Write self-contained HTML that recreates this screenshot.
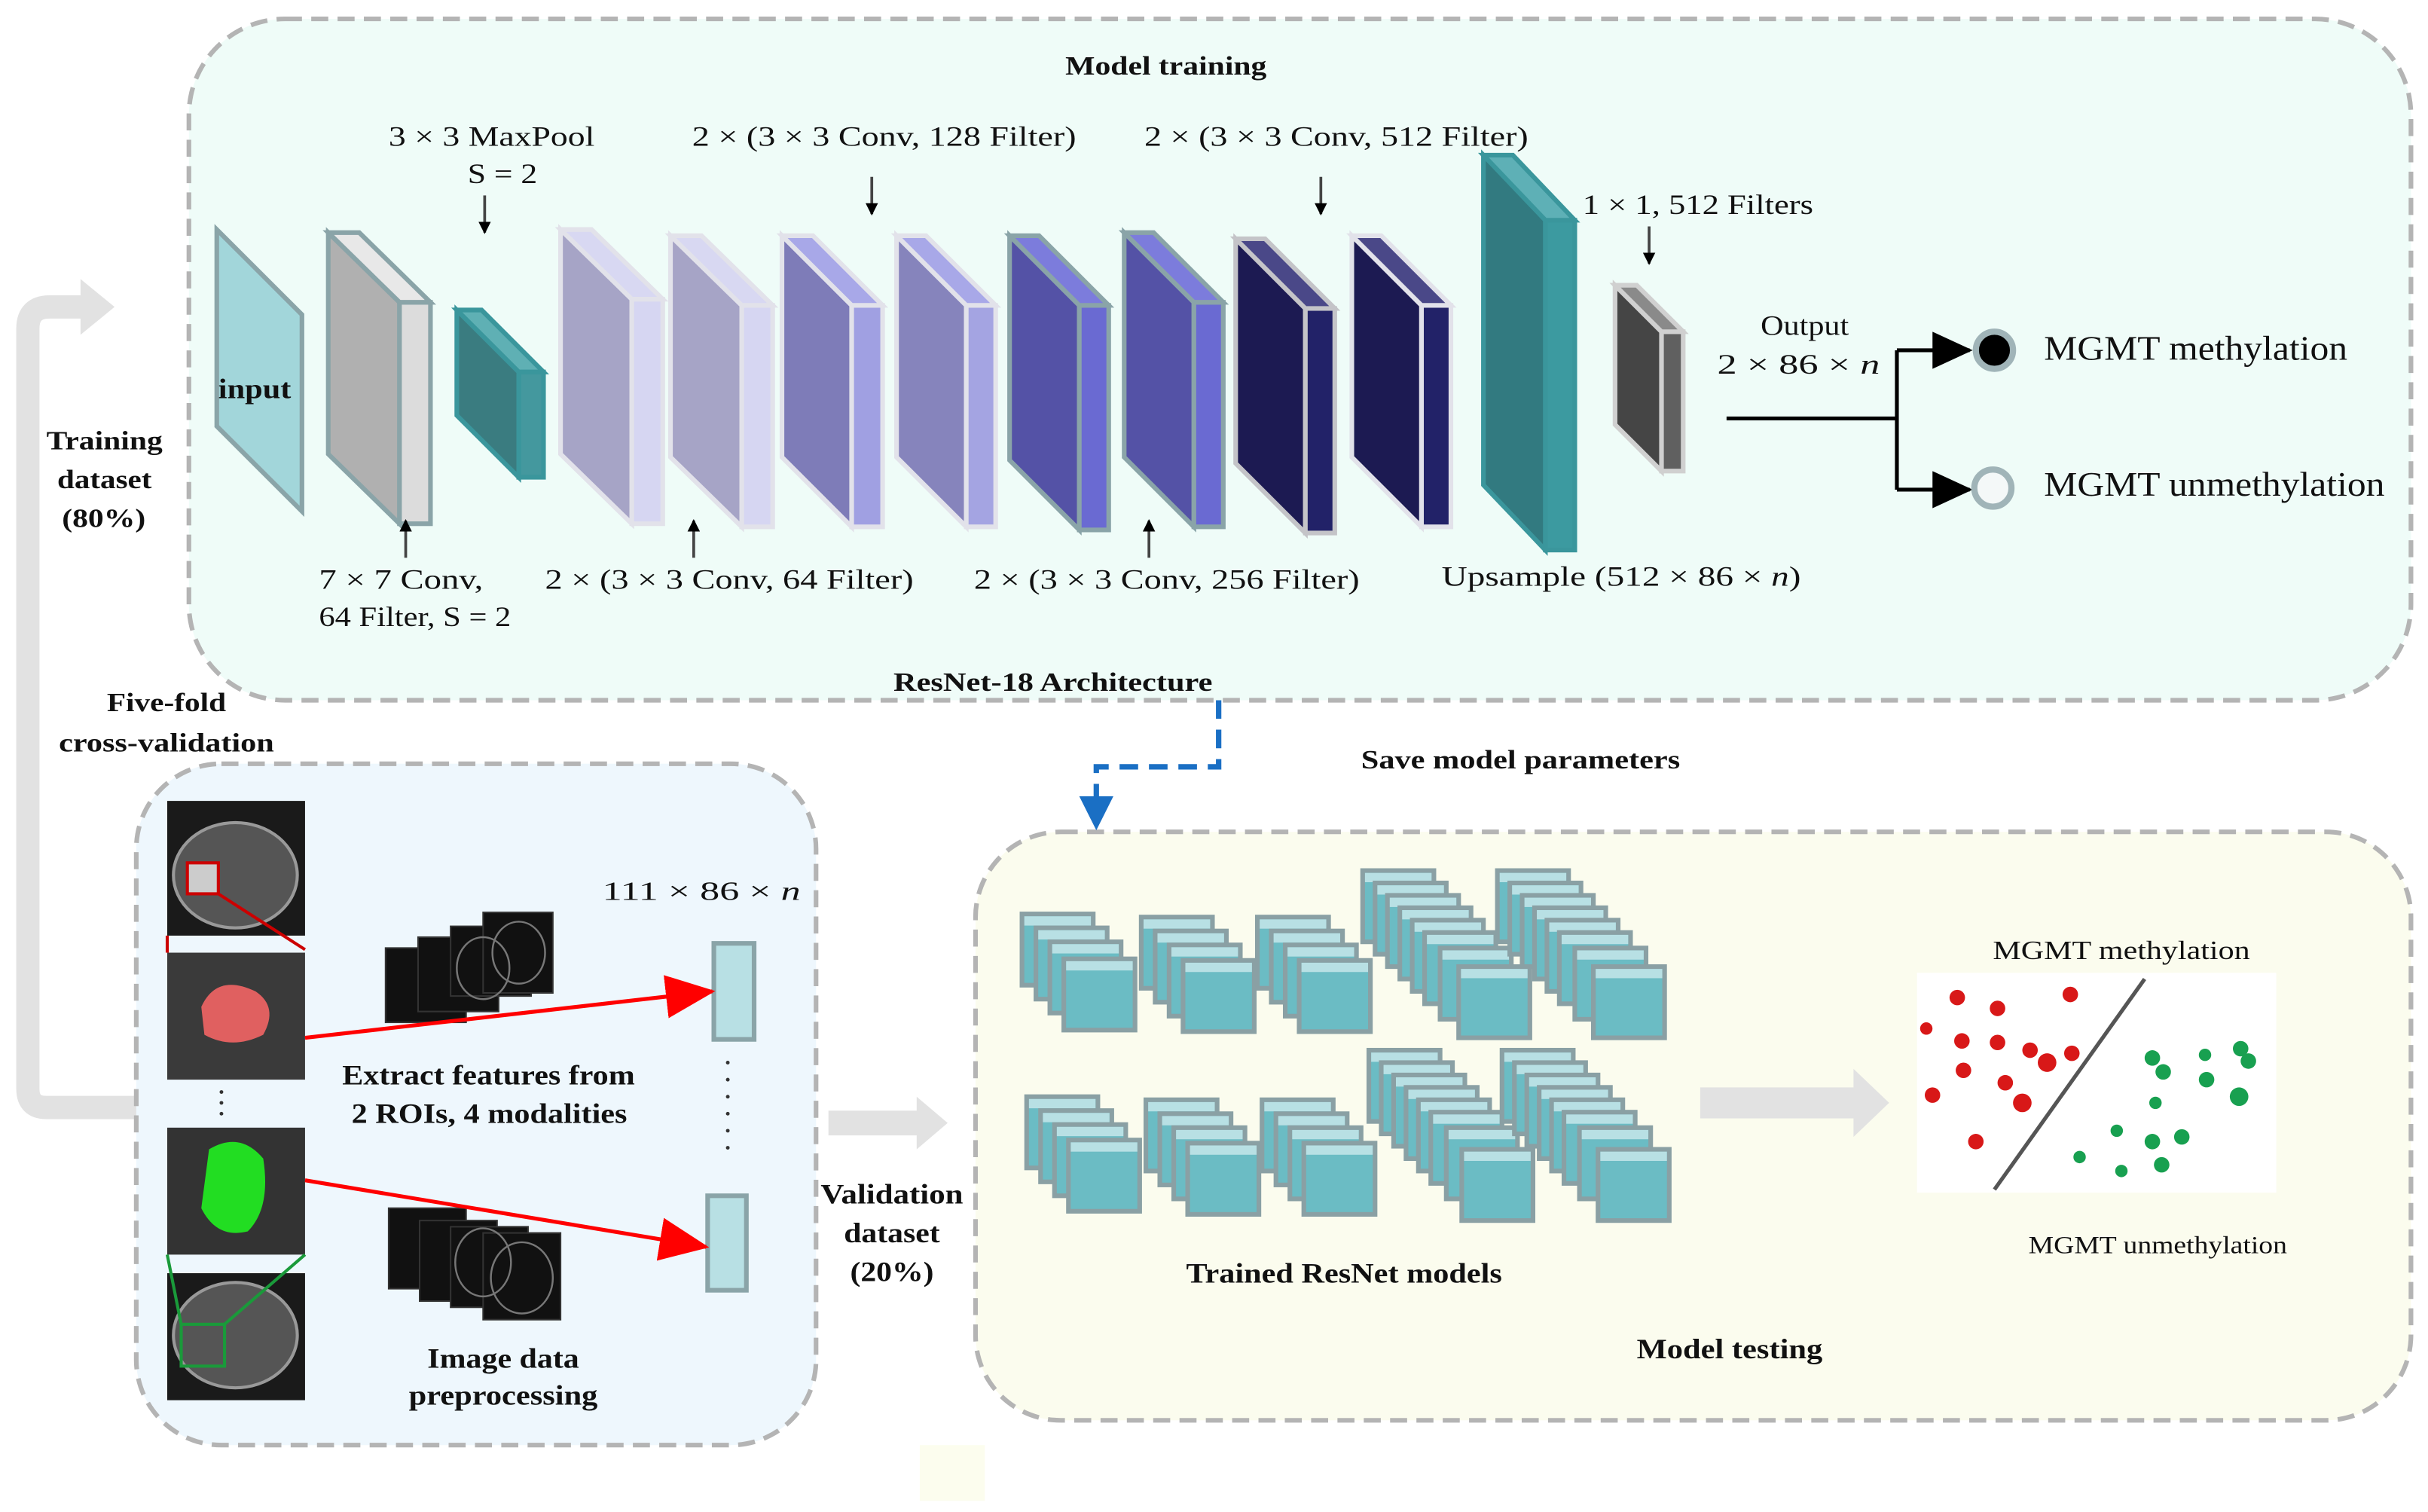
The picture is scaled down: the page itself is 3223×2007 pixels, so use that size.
<!DOCTYPE html>
<html><head><meta charset="utf-8"><style>
html,body{margin:0;padding:0;background:#fff;}
svg{display:block;}
text{font-family:"Liberation Serif",serif;fill:#111;}
.b{font-weight:bold;}
</style></head><body>
<svg width="3223" height="2007" viewBox="0 0 1568 976" xmlns="http://www.w3.org/2000/svg">
<defs>
<marker id="ah" markerWidth="8" markerHeight="8" refX="7" refY="4" orient="auto" markerUnits="userSpaceOnUse"><path d="M0,0 L8,4 L0,8 Z" fill="#000"/></marker>
<marker id="bk" markerWidth="26" markerHeight="24" refX="24" refY="12" orient="auto" markerUnits="userSpaceOnUse"><path d="M0,0 L26,12 L0,24 Z" fill="#000"/></marker>
<marker id="rd" markerWidth="32" markerHeight="28" refX="30" refY="14" orient="auto" markerUnits="userSpaceOnUse"><path d="M0,0 L32,14 L0,28 Z" fill="#f00"/></marker>
<g id="card"><rect width="46" height="46" fill="#6bbcc4" stroke="#8aa0a4" stroke-width="3"/><rect x="1.5" y="1.5" width="43" height="6" fill="#b8e0e4"/></g>
</defs>

<path d="M92,715 L30,715 Q18,715 18,703 L18,212 Q18,198 32,198 L55,198" fill="none" stroke="#e2e2e2" stroke-width="15"/>
<path d="M52,180 L74,198 L52,216 Z" fill="#e2e2e2"/>

<rect x="122" y="12" width="1435" height="440" rx="62" fill="#effcf8" stroke="#b4b4b4" stroke-width="3" stroke-dasharray="11,6"/>
<rect x="88" y="493" width="439" height="440" rx="55" fill="#eef7fd" stroke="#b4b4b4" stroke-width="3" stroke-dasharray="11,6"/>
<rect x="630" y="537" width="927" height="380" rx="55" fill="#fbfcee" stroke="#b4b4b4" stroke-width="3" stroke-dasharray="11,6"/>
<rect x="594" y="933" width="42" height="36" fill="#fcfdee"/>

<g lengthAdjust="spacingAndGlyphs">
<text x="688" y="48" font-size="17" class="b" textLength="130" lengthAdjust="spacingAndGlyphs">Model training</text>
<text x="577" y="446" font-size="17" class="b" textLength="206" lengthAdjust="spacingAndGlyphs">ResNet-18 Architecture</text>
<text x="879" y="496" font-size="17" class="b" textLength="206" lengthAdjust="spacingAndGlyphs">Save model parameters</text>
<text x="30" y="290" font-size="17" class="b" textLength="75" lengthAdjust="spacingAndGlyphs">Training</text>
<text x="37" y="315" font-size="17" class="b" textLength="61" lengthAdjust="spacingAndGlyphs">dataset</text>
<text x="40" y="340" font-size="17" class="b" textLength="54" lengthAdjust="spacingAndGlyphs">(80%)</text>
<text x="69" y="459" font-size="17" class="b" textLength="77" lengthAdjust="spacingAndGlyphs">Five-fold</text>
<text x="38" y="485" font-size="17" class="b" textLength="139" lengthAdjust="spacingAndGlyphs">cross-validation</text>
</g>

<polygon points="140,148 195,203 195,330 140,275" fill="#a2d6da" stroke="#8aa4a8" stroke-width="3"/>
<text x="141" y="257" font-size="18" class="b" textLength="47" lengthAdjust="spacingAndGlyphs">input</text>

<g stroke-width="3">
<polygon points="212,150 258,195 258,338 212,293" fill="#b0b0b0" stroke="#8aa4a8"/>
<rect x="258" y="195" width="20" height="143" fill="#dcdcdc" stroke="#8aa4a8"/>
<polygon points="212,150 232,150 278,195 258,195" fill="#e8e8e8" stroke="#8aa4a8"/>
<polygon points="295,200 335,240 335,308 295,268" fill="#3a7c80" stroke="#3a969c"/>
<rect x="335" y="240" width="16" height="68" fill="#44989e" stroke="#3a969c"/>
<polygon points="295,200 311,200 351,240 335,240" fill="#5fb0b4" stroke="#3a969c"/>
</g>

<g stroke-width="3">
<polygon points="362,148 408,193 408,338 362,293" fill="#a6a4c6" stroke="#e2e2ea"/>
<rect x="408" y="193" width="20" height="145" fill="#d6d6f2" stroke="#e2e2ea"/>
<polygon points="362,148 382,148 428,193 408,193" fill="#d8d8f2" stroke="#e2e2ea"/>
<polygon points="433,152 479,197 479,340 433,295" fill="#a6a4c6" stroke="#e2e2ea"/>
<rect x="479" y="197" width="20" height="143" fill="#d6d6f2" stroke="#e2e2ea"/>
<polygon points="433,152 453,152 499,197 479,197" fill="#d8d8f2" stroke="#e2e2ea"/>
<polygon points="505,152 550,197 550,340 505,295" fill="#7e7cb8" stroke="#e2e2ea"/>
<rect x="550" y="197" width="20" height="143" fill="#a0a0e2" stroke="#e2e2ea"/>
<polygon points="505,152 525,152 570,197 550,197" fill="#a8a8e8" stroke="#e2e2ea"/>
<polygon points="579,152 624,197 624,340 579,295" fill="#8684bc" stroke="#e2e2ea"/>
<rect x="624" y="197" width="19" height="143" fill="#a4a4e2" stroke="#e2e2ea"/>
<polygon points="579,152 598,152 643,197 624,197" fill="#a8a8e8" stroke="#e2e2ea"/>
<polygon points="652,152 697,197 697,342 652,297" fill="#5452a6" stroke="#8aa4a8"/>
<rect x="697" y="197" width="19" height="145" fill="#6a6ad2" stroke="#8aa4a8"/>
<polygon points="652,152 671,152 716,197 697,197" fill="#7c7cdc" stroke="#8aa4a8"/>
<polygon points="726,150 771,195 771,340 726,295" fill="#5452a6" stroke="#8aa4a8"/>
<rect x="771" y="195" width="19" height="145" fill="#6a6ad2" stroke="#8aa4a8"/>
<polygon points="726,150 745,150 790,195 771,195" fill="#7c7cdc" stroke="#8aa4a8"/>
<polygon points="798,154 843,199 843,344 798,299" fill="#1c1a52" stroke="#c4c4c8"/>
<rect x="843" y="199" width="19" height="145" fill="#222268" stroke="#c4c4c8"/>
<polygon points="798,154 817,154 862,199 843,199" fill="#4a4888" stroke="#c4c4c8"/>
<polygon points="873,152 918,197 918,340 873,295" fill="#1c1a52" stroke="#e2e2ea"/>
<rect x="918" y="197" width="19" height="143" fill="#222268" stroke="#e2e2ea"/>
<polygon points="873,152 892,152 937,197 918,197" fill="#4a4888" stroke="#e2e2ea"/>
<polygon points="958,100 998,142 998,355 958,313" fill="#327a80" stroke="#3a969c"/>
<rect x="998" y="142" width="19" height="213" fill="#3c9aa0" stroke="#3a969c"/>
<polygon points="958,100 977,100 1017,142 998,142" fill="#5eb0b6" stroke="#3a969c"/>
<polygon points="1043,184 1073,214 1073,304 1043,274" fill="#454545" stroke="#d0d0d0"/>
<rect x="1073" y="214" width="14" height="90" fill="#606060" stroke="#d0d0d0"/>
<polygon points="1043,184 1057,184 1087,214 1073,214" fill="#8a8a8a" stroke="#d0d0d0"/>
</g>

<g stroke="#444" stroke-width="1.8" marker-end="url(#ah)">
<line x1="313" y1="126" x2="313" y2="150"/>
<line x1="563" y1="114" x2="563" y2="138"/>
<line x1="853" y1="114" x2="853" y2="138"/>
<line x1="1065" y1="146" x2="1065" y2="170"/>
<line x1="262" y1="360" x2="262" y2="336"/>
<line x1="448" y1="360" x2="448" y2="336"/>
<line x1="742" y1="360" x2="742" y2="336"/>
</g>
<g font-size="18">
<text x="251" y="94" textLength="133" lengthAdjust="spacingAndGlyphs">3 × 3 MaxPool</text>
<text x="302" y="118" textLength="45" lengthAdjust="spacingAndGlyphs">S = 2</text>
<text x="447" y="94" textLength="248" lengthAdjust="spacingAndGlyphs">2 × (3 × 3 Conv, 128 Filter)</text>
<text x="739" y="94" textLength="248" lengthAdjust="spacingAndGlyphs">2 × (3 × 3 Conv, 512 Filter)</text>
<text x="1022" y="138" textLength="149" lengthAdjust="spacingAndGlyphs">1 × 1, 512 Filters</text>
<text x="206" y="380" textLength="106" lengthAdjust="spacingAndGlyphs">7 × 7 Conv,</text>
<text x="206" y="404" textLength="124" lengthAdjust="spacingAndGlyphs">64 Filter, S = 2</text>
<text x="352" y="380" textLength="238" lengthAdjust="spacingAndGlyphs">2 × (3 × 3 Conv, 64 Filter)</text>
<text x="629" y="380" textLength="249" lengthAdjust="spacingAndGlyphs">2 × (3 × 3 Conv, 256 Filter)</text>
<text x="931" y="378" textLength="232" lengthAdjust="spacingAndGlyphs">Upsample (512 × 86 × <tspan font-style="italic">n</tspan>)</text>
<text x="1137" y="216" textLength="57" lengthAdjust="spacingAndGlyphs">Output</text>
<text x="1109" y="241" textLength="105" lengthAdjust="spacingAndGlyphs">2 × 86 × <tspan font-style="italic">n</tspan></text>
</g>

<g stroke="#000" stroke-width="2.5" fill="none">
<line x1="1115" y1="270" x2="1225" y2="270"/>
<line x1="1225" y1="226" x2="1225" y2="316"/>
<line x1="1225" y1="226" x2="1272" y2="226" marker-end="url(#bk)"/>
<line x1="1225" y1="316" x2="1272" y2="316" marker-end="url(#bk)"/>
</g>
<circle cx="1288" cy="226" r="12" fill="#000" stroke="#a0b4b8" stroke-width="4"/>
<circle cx="1287" cy="315" r="12" fill="#f4f8f8" stroke="#a0b4b8" stroke-width="4"/>
<text x="1320" y="232" font-size="22" textLength="196" lengthAdjust="spacingAndGlyphs">MGMT methylation</text>
<text x="1320" y="320" font-size="22" textLength="220" lengthAdjust="spacingAndGlyphs">MGMT unmethylation</text>

<path d="M787,452 L787,495 L708,495 L708,518" fill="none" stroke="#1a6fc4" stroke-width="3.5" stroke-dasharray="12,7"/>
<path d="M697,514 L719,514 L708,536 Z" fill="#1a6fc4"/>

<rect x="108" y="517" width="89" height="87" fill="#1a1a1a"/>
<ellipse cx="152" cy="565" rx="40" ry="34" fill="#555" stroke="#999" stroke-width="2"/>
<rect x="121" y="557" width="20" height="20" fill="#ccc" stroke="#c00" stroke-width="2"/>
<rect x="108" y="615" width="89" height="82" fill="#3a3a3a"/>
<path d="M130,650 Q140,628 165,640 Q180,650 170,668 Q150,678 132,668 Z" fill="#e06060"/>
<rect x="108" y="728" width="89" height="82" fill="#333"/>
<path d="M135,742 Q155,730 170,748 Q175,780 160,795 Q140,800 130,780 Z" fill="#22dd22"/>
<rect x="108" y="822" width="89" height="82" fill="#1a1a1a"/>
<ellipse cx="152" cy="862" rx="40" ry="34" fill="#555" stroke="#999" stroke-width="2"/>
<rect x="117" y="855" width="28" height="27" fill="none" stroke="#1a9a3a" stroke-width="2"/>
<line x1="108" y1="604" x2="108" y2="615" stroke="#c00" stroke-width="2"/>
<line x1="197" y1="613" x2="141" y2="577" stroke="#c00" stroke-width="2"/>
<line x1="108" y1="810" x2="117" y2="855" stroke="#1a9a3a" stroke-width="2"/>
<line x1="197" y1="810" x2="145" y2="855" stroke="#1a9a3a" stroke-width="2"/>
<g fill="#333"><circle cx="143" cy="705" r="1.2"/><circle cx="143" cy="712" r="1.2"/><circle cx="143" cy="719" r="1.2"/><circle cx="470" cy="686" r="1.2"/><circle cx="470" cy="697" r="1.2"/><circle cx="470" cy="708" r="1.2"/><circle cx="470" cy="719" r="1.2"/><circle cx="470" cy="730" r="1.2"/><circle cx="470" cy="741" r="1.2"/></g>

<g fill="#111" stroke="#333" stroke-width="1">
<rect x="249" y="612" width="52" height="48"/><rect x="270" y="605" width="52" height="48"/><rect x="291" y="598" width="52" height="45"/><rect x="312" y="589" width="45" height="52"/>
<rect x="251" y="780" width="50" height="52"/><rect x="271" y="788" width="50" height="52"/><rect x="291" y="792" width="50" height="52"/><rect x="312" y="796" width="50" height="56"/>
</g>
<g fill="none" stroke="#777" stroke-width="1.2">
<ellipse cx="335" cy="615" rx="17" ry="20"/><ellipse cx="312" cy="625" rx="17" ry="20"/><ellipse cx="337" cy="825" rx="20" ry="23"/><ellipse cx="312" cy="815" rx="18" ry="22"/>
</g>

<rect x="461" y="609" width="26" height="62" fill="#b8e0e4" stroke="#8aa4a8" stroke-width="3"/>
<rect x="457" y="772" width="25" height="61" fill="#b8e0e4" stroke="#8aa4a8" stroke-width="3"/>
<line x1="197" y1="670" x2="460" y2="640" stroke="#f00" stroke-width="2.5" marker-end="url(#rd)"/>
<line x1="197" y1="762" x2="456" y2="805" stroke="#f00" stroke-width="2.5" marker-end="url(#rd)"/>

<text x="389" y="581" font-size="17" textLength="128" lengthAdjust="spacingAndGlyphs">111 × 86 × <tspan font-style="italic">n</tspan></text>
<text x="221" y="700" font-size="18" class="b" textLength="189" lengthAdjust="spacingAndGlyphs">Extract features from</text>
<text x="227" y="725" font-size="18" class="b" textLength="178" lengthAdjust="spacingAndGlyphs">2 ROIs, 4 modalities</text>
<text x="276" y="883" font-size="18" class="b" textLength="98" lengthAdjust="spacingAndGlyphs">Image data</text>
<text x="264" y="907" font-size="18" class="b" textLength="122" lengthAdjust="spacingAndGlyphs">preprocessing</text>
<text x="530" y="777" font-size="18" class="b" textLength="92" lengthAdjust="spacingAndGlyphs">Validation</text>
<text x="545" y="802" font-size="18" class="b" textLength="62" lengthAdjust="spacingAndGlyphs">dataset</text>
<text x="549" y="827" font-size="18" class="b" textLength="54" lengthAdjust="spacingAndGlyphs">(20%)</text>

<path d="M535,717 L592,717 L592,708 L612,725 L592,742 L592,733 L535,733 Z" fill="#e2e2e2"/>
<path d="M1098,702 L1197,702 L1197,690 L1220,712 L1197,734 L1197,722 L1098,722 Z" fill="#e2e2e2"/>

<g>
<use href="#card" x="660" y="590"/><use href="#card" x="669" y="599"/><use href="#card" x="678" y="608"/><use href="#card" x="687" y="619"/>
<use href="#card" x="737" y="592"/><use href="#card" x="746" y="601"/><use href="#card" x="755" y="610"/><use href="#card" x="764" y="620"/>
<use href="#card" x="812" y="592"/><use href="#card" x="821" y="601"/><use href="#card" x="830" y="610"/><use href="#card" x="839" y="620"/>
<use href="#card" x="880" y="562"/><use href="#card" x="888" y="570"/><use href="#card" x="896" y="578"/><use href="#card" x="904" y="586"/><use href="#card" x="912" y="594"/><use href="#card" x="920" y="602"/><use href="#card" x="930" y="612"/><use href="#card" x="942" y="624"/>
<use href="#card" x="967" y="562"/><use href="#card" x="975" y="570"/><use href="#card" x="983" y="578"/><use href="#card" x="991" y="586"/><use href="#card" x="999" y="594"/><use href="#card" x="1007" y="602"/><use href="#card" x="1017" y="612"/><use href="#card" x="1029" y="624"/>
<use href="#card" x="663" y="708"/><use href="#card" x="672" y="717"/><use href="#card" x="681" y="726"/><use href="#card" x="690" y="736"/>
<use href="#card" x="740" y="710"/><use href="#card" x="749" y="719"/><use href="#card" x="758" y="728"/><use href="#card" x="767" y="738"/>
<use href="#card" x="815" y="710"/><use href="#card" x="824" y="719"/><use href="#card" x="833" y="728"/><use href="#card" x="842" y="738"/>
<use href="#card" x="884" y="678"/><use href="#card" x="892" y="686"/><use href="#card" x="900" y="694"/><use href="#card" x="908" y="702"/><use href="#card" x="916" y="710"/><use href="#card" x="924" y="718"/><use href="#card" x="934" y="728"/><use href="#card" x="944" y="742"/>
<use href="#card" x="970" y="678"/><use href="#card" x="978" y="686"/><use href="#card" x="986" y="694"/><use href="#card" x="994" y="702"/><use href="#card" x="1002" y="710"/><use href="#card" x="1010" y="718"/><use href="#card" x="1020" y="728"/><use href="#card" x="1032" y="742"/>
</g>
<text x="766" y="828" font-size="18" class="b" textLength="204" lengthAdjust="spacingAndGlyphs">Trained ResNet models</text>
<text x="1057" y="877" font-size="18" class="b" textLength="120" lengthAdjust="spacingAndGlyphs">Model testing</text>

<rect x="1238" y="628" width="232" height="142" fill="#fff"/>
<line x1="1288" y1="768" x2="1385" y2="632" stroke="#555" stroke-width="2.5"/>
<g fill="#d81818">
<circle cx="1264" cy="644" r="5"/><circle cx="1290" cy="651" r="5"/><circle cx="1337" cy="642" r="5"/><circle cx="1244" cy="664" r="4"/>
<circle cx="1267" cy="672" r="5"/><circle cx="1290" cy="673" r="5"/><circle cx="1311" cy="678" r="5"/><circle cx="1322" cy="686" r="6"/><circle cx="1338" cy="680" r="5"/>
<circle cx="1268" cy="691" r="5"/><circle cx="1295" cy="699" r="5"/><circle cx="1248" cy="707" r="5"/><circle cx="1306" cy="712" r="6"/><circle cx="1276" cy="737" r="5"/>
</g>
<g fill="#18a050">
<circle cx="1390" cy="683" r="5"/><circle cx="1397" cy="692" r="5"/><circle cx="1424" cy="681" r="4"/><circle cx="1447" cy="677" r="5"/><circle cx="1452" cy="685" r="5"/>
<circle cx="1425" cy="697" r="5"/><circle cx="1392" cy="712" r="4"/><circle cx="1446" cy="708" r="6"/><circle cx="1367" cy="730" r="4"/><circle cx="1390" cy="737" r="5"/>
<circle cx="1409" cy="734" r="5"/><circle cx="1343" cy="747" r="4"/><circle cx="1370" cy="756" r="4"/><circle cx="1396" cy="752" r="5"/>
</g>
<text x="1287" y="619" font-size="17" textLength="166" lengthAdjust="spacingAndGlyphs">MGMT methylation</text>
<text x="1310" y="809" font-size="16" textLength="167" lengthAdjust="spacingAndGlyphs">MGMT unmethylation</text>
</svg>
</body></html>
